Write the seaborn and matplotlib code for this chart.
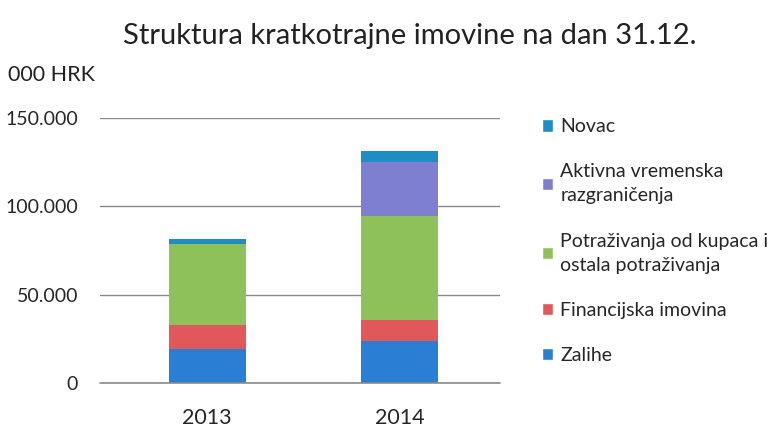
import numpy as np
import pandas as pd
import matplotlib
matplotlib.use('Agg')
import matplotlib.pyplot as plt
import seaborn as sns
from matplotlib.ticker import FuncFormatter
from matplotlib.patches import Patch

years = ['2013', '2014']
zalihe = [19100, 23600]
financijska = [13500, 11800]
potrazivanja = [46100, 59000]
aktivna = [0, 30900]
novac = [2800, 6200]

labels = ['Zalihe', 'Financijska imovina',
          'Potraživanja od kupaca i\nostala potraživanja',
          'Aktivna vremenska\nrazgraničenja', 'Novac']
colors = ['#2a7fd4', '#e0585a', '#8fc15a', '#7f7fd2', '#1f8cc4']

sns.set_style('white')
plt.rcParams['font.family'] = ['Lato', 'DejaVu Sans']

fig = plt.figure(figsize=(7.71, 4.34), dpi=100)
ax = fig.add_axes([0.13, 0.1175, 0.518, 0.6105])

# stacked bars: draw cumulative totals from the top layer down
layers = [zalihe, financijska, potrazivanja, aktivna, novac]
cum = np.cumsum(np.array(layers), axis=0)
for i in range(len(layers) - 1, -1, -1):
    df = pd.DataFrame({'year': years, 'value': cum[i]})
    sns.barplot(data=df, x='year', y='value', color=colors[i], width=0.4,
                saturation=1, linewidth=0, ax=ax, zorder=3)

ax.set_ylim(0, 150000)
ax.set_xlim(-0.555, 1.52)
ax.set_yticks([0, 50000, 100000, 150000])
ax.yaxis.set_major_formatter(FuncFormatter(lambda v, p: f'{int(v):,}'.replace(',', '.')))
ax.grid(axis='y', color='#8a8a8a', linewidth=1, zorder=0)
ax.grid(axis='x', visible=False)
ax.axhline(0, color='#8a8a8a', linewidth=1.2, zorder=4, clip_on=False)
for s in ax.spines.values():
    s.set_visible(False)
ax.tick_params(axis='y', length=0, pad=16, labelsize=14)
ax.tick_params(axis='x', length=0, pad=18, labelsize=15.5)
ax.set_xlabel('')
ax.set_ylabel('')

fig.text(0.532, 0.918, 'Struktura kratkotrajne imovine na dan 31.12.',
         ha='center', va='center', fontsize=21, color='#222222')
fig.text(0.011, 0.827, '000 HRK', ha='left', va='center', fontsize=15.5, color='#222222')

handles = [Patch(facecolor=colors[i], label=labels[i]) for i in range(4, -1, -1)]
leg = fig.legend(handles=handles, loc='upper left', bbox_to_anchor=(0.69, 0.75),
                 frameon=False, fontsize=14, handlelength=0.6, handleheight=0.6,
                 handletextpad=0.35, labelspacing=1.45, borderpad=0)
for t in leg.get_texts():
    t.set_linespacing(1.5)

fig.savefig('out.png', dpi=100)
